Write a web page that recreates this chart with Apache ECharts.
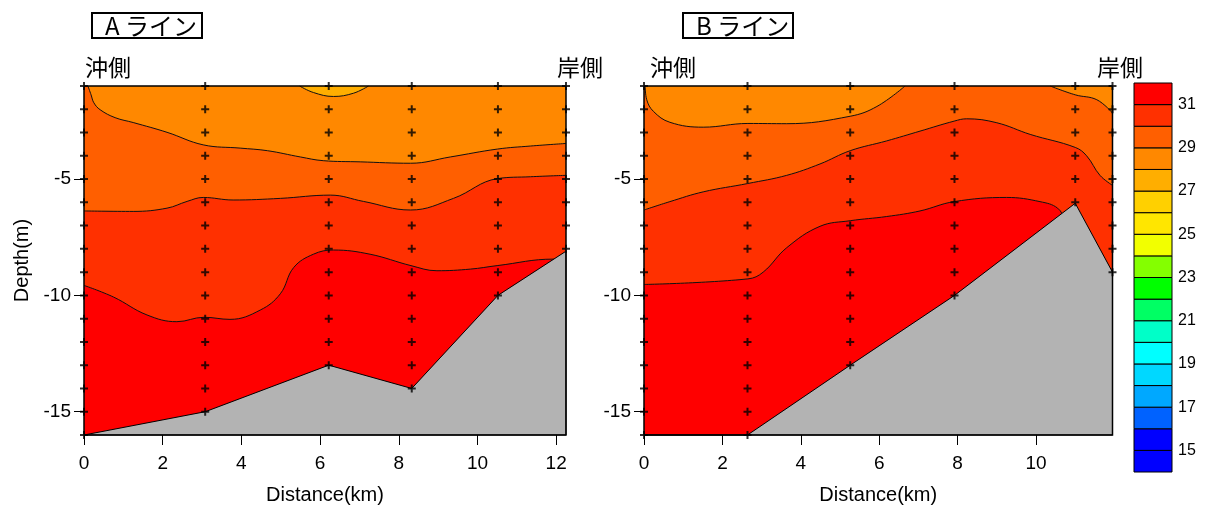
<!DOCTYPE html>
<html>
<head>
<meta charset="utf-8">
<script src="https://cdn.jsdelivr.net/npm/echarts@6/dist/echarts.min.js"></script>
<style>
  html, body { margin: 0; padding: 0; background: #fff; }
  #chart { width: 1207px; height: 510px; }
</style>
</head>
<body>
<div id="chart"></div>
<script>
// Temperature levels (°C) of the colour scale and the colour of each 1° band, from 14–15 up to 31–32
const LEVELS = [14, 15, 16, 17, 18, 19, 20, 21, 22, 23, 24, 25, 26, 27, 28, 29, 30, 31, 32];
const BAND_COLORS = [
  '#0000ff', '#0000ff', '#0062ff', '#00a8ff', '#00d8ff', '#00ffff',
  '#00ffc8', '#00ff64', '#00ff00', '#84ff00', '#f2ff00', '#ffe600',
  '#ffd000', '#ffae00', '#ff8800', '#ff5f00', '#ff3000', '#ff0000'
];
const SCALE_LABELS = [15, 17, 19, 21, 23, 25, 27, 29, 31];

// Depth range of both sections (m) and depth tick labels
const DEPTH_MIN = -16;
const DEPTH_MAX = -1;
const DEPTH_TICKS = [-15, -10, -5];

// ---- A line ----
const A_DIST_MAX = 12.25;
const A_DIST_TICKS = [0, 2, 4, 6, 8, 10, 12];
const A_STATIONS = [0, 3.08, 6.22, 8.33, 10.52, 12.25];   // km from offshore end
const A_SEABED = [-16, -15, -13, -14, -10, -8.1];         // bottom depth at each station (m)
// isotherms as [distance km, depth m]
const A_ISO_28 = [[5.48, -1], [5.83, -1.28], [6.34, -1.45], [6.85, -1.31], [7.23, -1]];
const A_ISO_29 = [[0.10, -1.0], [0.18, -1.38], [0.25, -1.72], [0.41, -2.02], [0.79, -2.36], [1.25, -2.57],
  [2.11, -2.99], [3.03, -3.53], [3.97, -3.67], [4.66, -3.78], [5.50, -4.05], [6.08, -4.21],
  [7.02, -4.26], [8.30, -4.32], [9.31, -4.05], [10.51, -3.71], [11.35, -3.58], [12.25, -3.47]];
const A_ISO_30 = [[0, -6.37], [1.25, -6.39], [2.11, -6.25], [2.62, -5.96], [3.03, -5.79], [3.79, -5.90],
  [4.99, -5.83], [6.26, -5.69], [7.10, -5.96], [8.30, -6.33], [9.39, -5.83], [10.51, -4.98],
  [11.35, -4.90], [12.25, -4.84]];
const A_ISO_31 = [[0, -9.57], [0.75, -10.07], [1.60, -10.84], [2.36, -11.13], [3.05, -10.94], [3.71, -11.03],
  [4.48, -10.63], [4.99, -9.93], [5.33, -8.80], [5.83, -8.23], [6.34, -8.05], [7.27, -8.23],
  [8.31, -8.72], [8.97, -8.94], [9.82, -8.87], [10.50, -8.72], [11.94, -8.44], [12.25, -8.5]];

// ---- B line ----
const B_DIST_MAX = 11.95;
const B_DIST_TICKS = [0, 2, 4, 6, 8, 10];
const B_STATIONS = [0, 2.64, 5.26, 7.92, 11.0, 11.95];
const B_SEABED = [-16, -16, -13, -10, -6.04, -9];
const B_ISO_29_WEST = [[0.03, -1.0], [0.07, -1.59], [0.24, -2.09], [0.66, -2.56], [1.51, -2.77], [2.65, -2.61],
  [3.64, -2.62], [5.26, -2.30], [5.94, -1.88], [6.66, -1.0]];
const B_ISO_29_EAST = [[10.36, -1.0], [11.0, -1.38], [11.55, -1.59], [11.95, -2.16]];
const B_ISO_30 = [[0, -6.33], [0.66, -5.97], [1.51, -5.55], [2.65, -5.19], [3.64, -4.84], [4.49, -4.35],
  [5.26, -3.78], [6.19, -3.36], [7.04, -2.94], [7.91, -2.51], [8.23, -2.41], [9.0, -2.58],
  [9.85, -3.08], [11.0, -3.64], [11.29, -4.0], [11.63, -4.84], [11.95, -5.27]];
const B_ISO_31 = [[0, -9.53], [2.65, -9.29], [3.04, -9.0], [3.64, -7.95], [4.49, -7.03], [5.26, -6.79],
  [6.19, -6.61], [7.04, -6.37], [7.91, -5.97], [9.25, -5.79], [10.1, -5.97], [10.55, -6.25],
  [10.75, -6.8], [11.0, -7.6], [11.95, -9.8]];

const FONT_LATIN = '"Liberation Sans", Arial, sans-serif';
const FONT_CJK = '"Noto Sans CJK JP", sans-serif';

function bandColor(lower) {
  return BAND_COLORS[LEVELS.indexOf(lower)];
}

// one isotherm: the line plus the cooler band above it, filled up to the surface
function isothermSeries(gi, level, points) {
  return {
    type: 'line', xAxisIndex: gi, yAxisIndex: gi,
    data: points, smooth: 0.4, symbol: 'none', silent: true,
    lineStyle: { color: '#111', width: 1 },
    areaStyle: { color: bandColor(level - 1), opacity: 1, origin: 'end' },
    z: 2
  };
}

function seabedSeries(gi, stations, seabed, distMax) {
  const poly = stations.map((s, i) => [s, seabed[i]]);
  poly.push([distMax, DEPTH_MIN]);
  poly.unshift([0, DEPTH_MIN]);
  return {
    type: 'custom', xAxisIndex: gi, yAxisIndex: gi, data: [[0, DEPTH_MIN]], silent: true, z: 3,
    renderItem: function (params, api) {
      return {
        type: 'polygon',
        shape: { points: poly.map(p => api.coord(p)) },
        style: { fill: '#b3b3b3', stroke: '#000', lineWidth: 1 }
      };
    }
  };
}

function sampleSeries(gi, stations, seabed) {
  const pts = [];
  stations.forEach((s, i) => {
    for (let d = -1; d >= Math.ceil(seabed[i] - 1e-9); d--) pts.push([s, d]);
  });
  return {
    type: 'scatter', xAxisIndex: gi, yAxisIndex: gi, data: pts, clip: false, silent: true, z: 5,
    symbol: 'path://M3,0L5,0L5,3L8,3L8,5L5,5L5,8L3,8L3,5L0,5L0,3L3,3Z',
    symbolSize: 8, itemStyle: { color: '#000' }
  };
}

function frameSeries(gi) {
  return {
    type: 'custom', xAxisIndex: gi, yAxisIndex: gi, data: [[0, DEPTH_MIN]], silent: true, z: 6, clip: false,
    renderItem: function (params) {
      const c = params.coordSys;
      return {
        type: 'rect',
        shape: { x: c.x, y: c.y, width: c.width, height: c.height },
        style: { fill: 'none', stroke: '#000', lineWidth: 1.5 }
      };
    }
  };
}

function distAxis(gi, max, ticks, withName) {
  return {
    type: 'value', gridIndex: gi, min: 0, max: max,
    name: withName ? 'Distance(km)' : '', nameLocation: 'middle', nameGap: 50,
    nameTextStyle: { fontFamily: FONT_LATIN, fontSize: 20, color: '#000' },
    axisLine: { show: false },
    axisTick: { show: true, length: 10, customValues: ticks, lineStyle: { color: '#000', width: 1 } },
    axisLabel: { customValues: ticks, fontFamily: FONT_LATIN, fontSize: 19, color: '#000', margin: 19 },
    splitLine: { show: false }
  };
}

function depthAxis(gi, withName) {
  return {
    type: 'value', gridIndex: gi, min: DEPTH_MIN, max: DEPTH_MAX,
    name: withName ? 'Depth(m)' : '', nameLocation: 'middle', nameGap: 52, nameRotate: 90,
    nameTextStyle: { fontFamily: FONT_LATIN, fontSize: 20, color: '#000' },
    axisLine: { show: false },
    axisTick: { show: true, length: 10, customValues: DEPTH_TICKS, lineStyle: { color: '#000', width: 1 } },
    axisLabel: { customValues: DEPTH_TICKS, fontFamily: FONT_LATIN, fontSize: 19, color: '#000', margin: 13 },
    splitLine: { show: false }
  };
}

// colour scale cells
const scaleCells = LEVELS.slice(0, -1).map((lo, i) => [lo, LEVELS[i + 1], BAND_COLORS[i]]);

function titleBox(x, label) {
  return [
    { type: 'rect', shape: { x: x, y: 13, width: 110, height: 25 },
      style: { fill: '#fff', stroke: '#000', lineWidth: 2 } },
    { type: 'text', x: x + 13, y: 26,
      style: { text: label, font: '24px ' + FONT_CJK, fill: '#000', verticalAlign: 'middle' } }
  ];
}

function sideLabel(x, text) {
  return { type: 'text', x: x, y: 67,
    style: { text: text, font: '23px ' + FONT_CJK, fill: '#000', verticalAlign: 'middle' } };
}

const chart = echarts.init(document.getElementById('chart'), null, { renderer: 'canvas' });
chart.setOption({
  animation: false,
  backgroundColor: '#fff',
  grid: [
    { left: 84, top: 86, width: 482, height: 351, show: true, borderWidth: 0, backgroundColor: bandColor(31) },
    { left: 644, top: 86, width: 468.5, height: 351, show: true, borderWidth: 0, backgroundColor: bandColor(31) },
    { left: 1134, top: 83, width: 38, height: 389 }
  ],
  xAxis: [
    distAxis(0, A_DIST_MAX, A_DIST_TICKS, true),
    distAxis(1, B_DIST_MAX, B_DIST_TICKS, true),
    { type: 'value', gridIndex: 2, min: 0, max: 1, show: false }
  ],
  yAxis: [
    depthAxis(0, true),
    depthAxis(1, false),
    { type: 'value', gridIndex: 2, min: LEVELS[0], max: LEVELS[LEVELS.length - 1], position: 'right',
      axisLine: { show: false }, axisTick: { show: false }, splitLine: { show: false },
      axisLabel: { customValues: SCALE_LABELS, fontFamily: FONT_LATIN, fontSize: 16, color: '#000', margin: 6 } }
  ],
  graphic: [
    ...titleBox(92, 'A ライン'),
    ...titleBox(683, 'B ライン'),
    sideLabel(85, '沖側'),
    sideLabel(557, '岸側'),
    sideLabel(650, '沖側'),
    sideLabel(1097, '岸側')
  ],
  series: [
    isothermSeries(0, 31, A_ISO_31),
    isothermSeries(0, 30, A_ISO_30),
    isothermSeries(0, 29, A_ISO_29),
    isothermSeries(0, 28, A_ISO_28),
    seabedSeries(0, A_STATIONS, A_SEABED, A_DIST_MAX),
    sampleSeries(0, A_STATIONS, A_SEABED),
    frameSeries(0),

    isothermSeries(1, 31, B_ISO_31),
    isothermSeries(1, 30, B_ISO_30),
    isothermSeries(1, 29, B_ISO_29_WEST),
    isothermSeries(1, 29, B_ISO_29_EAST),
    seabedSeries(1, B_STATIONS, B_SEABED, B_DIST_MAX),
    sampleSeries(1, B_STATIONS, B_SEABED),
    frameSeries(1),

    {
      type: 'custom', xAxisIndex: 2, yAxisIndex: 2, data: scaleCells, silent: true,
      renderItem: function (params, api) {
        const lo = api.value(0), hi = api.value(1);
        const p0 = api.coord([0, hi]);
        const p1 = api.coord([1, lo]);
        return {
          type: 'rect',
          shape: { x: p0[0], y: p0[1], width: p1[0] - p0[0], height: p1[1] - p0[1] },
          style: { fill: scaleCells[params.dataIndex][2], stroke: '#000', lineWidth: 1 }
        };
      }
    }
  ]
});
</script>
</body>
</html>
